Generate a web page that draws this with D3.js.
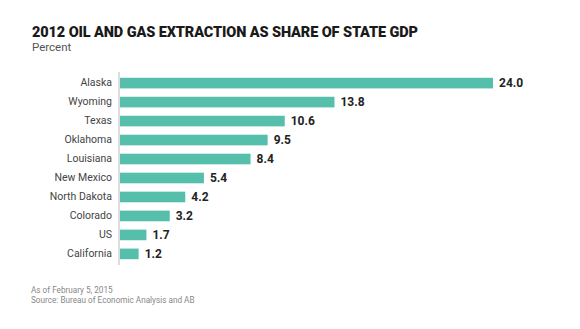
<!DOCTYPE html>
<html>
<head>
<meta charset="utf-8">
<script src="https://cdn.jsdelivr.net/npm/d3@7"></script>
<style>
  body { margin: 0; background: #fff; }
  svg { display: block; }
</style>
</head>
<body>
<svg id="chart" width="580" height="329"></svg>
<script>
// Data
const states = ["Alaska", "Wyoming", "Texas", "Oklahoma", "Louisiana", "New Mexico",
  "North Dakota", "Colorado", "US", "California"];
const shares = [24.0, 13.8, 10.6, 9.5, 8.4, 5.4, 4.2, 3.2, 1.7, 1.2];
const titleText = "2012 OIL AND GAS EXTRACTION AS SHARE OF STATE GDP";
const subtitleText = "Percent";
const notes = ["As of February 5, 2015", "Source: Bureau of Economic Analysis and AB"];

const svg = d3.select('#chart');
const margin = {top: 74, left: 120, bottom: 64};

const rows = states.map((s, i) => ({name: s, value: shares[i]}));

// x scale : 24.0 reaches ~493px
const x = d3.scaleLinear().domain([0, 24]).range([margin.left, 493]);
const y = d3.scaleBand().domain(states)
  .range([margin.top, 263]).paddingInner(0.44).paddingOuter(0.2);

// title + subtitle
svg.append('text')
  .attr('x', 32).attr('y', 37)
  .attr('font-family', 'Roboto, sans-serif')
  .attr('font-weight', 900).attr('font-size', 14.5)
  .attr('textLength', 386).attr('lengthAdjust', 'spacing')
  .attr('fill', '#1a1a1a')
  .text(titleText);
svg.append('text')
  .attr('x', 32).attr('y', 51)
  .attr('font-family', 'Roboto, sans-serif')
  .attr('font-size', 11.5).attr('fill', '#555')
  .text(subtitleText);

// bars
svg.selectAll('rect.bar').data(rows)
  .enter().append('rect')
  .attr('class', 'bar')
  .attr('x', x(0))
  .attr('y', d => y(d.name))
  .attr('width', d => x(d.value) - x(0))
  .attr('height', y.bandwidth())
  .attr('fill', '#55bfac');

// value labels
svg.selectAll('text.val').data(rows)
  .enter().append('text')
  .attr('class', 'val')
  .attr('x', d => x(d.value) + 6)
  .attr('y', d => y(d.name) + y.bandwidth() / 2)
  .attr('dy', '0.36em')
  .attr('font-family', 'Roboto, sans-serif')
  .attr('font-weight', 'bold').attr('font-size', 12)
  .attr('fill', '#222')
  .text(d => d.value.toFixed(1));

// category axis
const axis = svg.append('g')
  .attr('transform', `translate(${margin.left - 1},0)`)
  .call(d3.axisLeft(y).tickSize(0).tickPadding(7));
axis.select('.domain').attr('stroke', '#bbb')
  .attr('d', `M0,${y.range()[0] - 2}V${y.range()[1] + 2}`);
axis.selectAll('text')
  .attr('font-family', 'Roboto, sans-serif')
  .attr('font-size', 10.5).attr('fill', '#444');

// footer notes
svg.selectAll('text.note').data(notes)
  .enter().append('text')
  .attr('class', 'note')
  .attr('x', 31).attr('y', (d, i) => 293 + i * 9.5)
  .attr('font-family', 'Roboto, sans-serif')
  .attr('font-size', 8.2).attr('fill', '#888')
  .text(d => d);
</script>
</body>
</html>
